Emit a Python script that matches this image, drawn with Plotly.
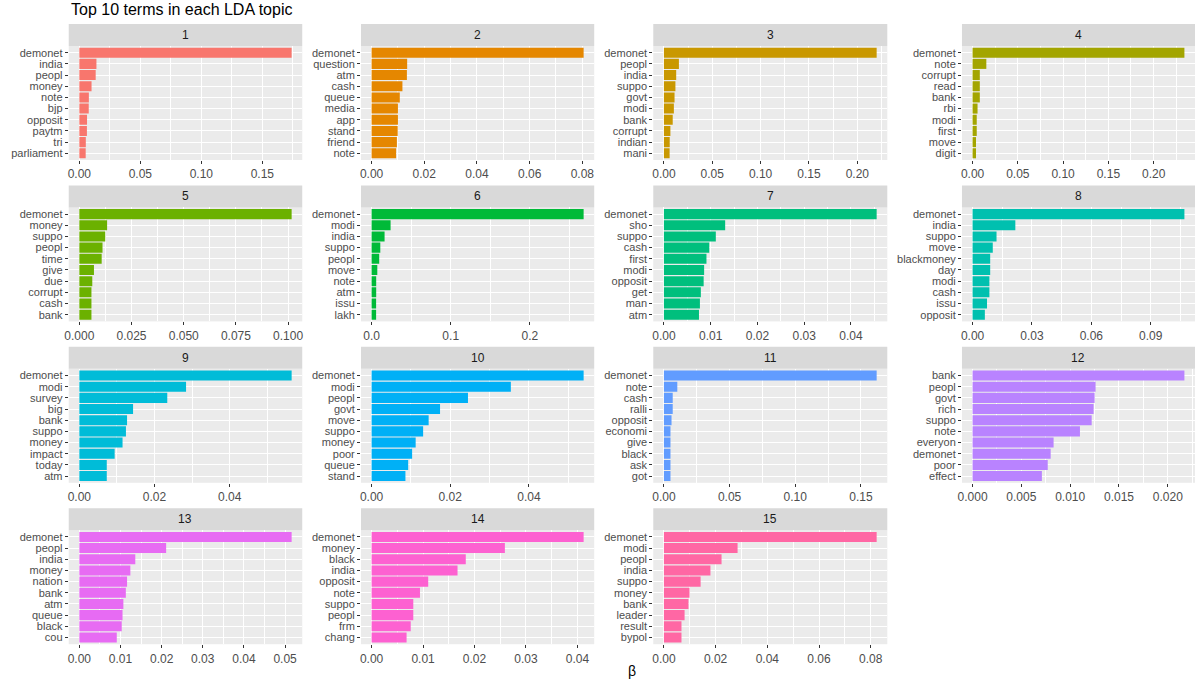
import plotly.graph_objects as go

terms_1 = ["demonet", "india", "peopl", "money", "note", "bjp", "opposit", "paytm", "tri", "parliament"]
beta_1 = [0.174, 0.014, 0.0134, 0.010, 0.0078, 0.0077, 0.0063, 0.0062, 0.0053, 0.0052]
terms_2 = ["demonet", "question", "atm", "cash", "queue", "media", "app", "stand", "friend", "note"]
beta_2 = [0.0805, 0.0135, 0.0134, 0.0117, 0.0107, 0.0100, 0.0100, 0.0099, 0.0096, 0.0093]
terms_3 = ["demonet", "peopl", "india", "suppo", "govt", "modi", "bank", "corrupt", "indian", "mani"]
beta_3 = [0.220, 0.0155, 0.0127, 0.0119, 0.0110, 0.0103, 0.0091, 0.0067, 0.0060, 0.0059]
terms_4 = ["demonet", "note", "corrupt", "read", "bank", "rbi", "modi", "first", "move", "digit"]
beta_4 = [0.234, 0.0152, 0.0080, 0.0080, 0.0080, 0.0055, 0.0046, 0.0046, 0.0038, 0.0038]
terms_5 = ["demonet", "money", "suppo", "peopl", "time", "give", "due", "corrupt", "cash", "bank"]
beta_5 = [0.1017, 0.0133, 0.0124, 0.0111, 0.0107, 0.0070, 0.0062, 0.0058, 0.0058, 0.0058]
terms_6 = ["demonet", "modi", "india", "suppo", "peopl", "move", "note", "atm", "issu", "lakh"]
beta_6 = [0.268, 0.024, 0.0164, 0.0110, 0.0096, 0.0072, 0.0058, 0.0058, 0.0057, 0.0057]
terms_7 = ["demonet", "sho", "suppo", "cash", "first", "modi", "opposit", "get", "man", "atm"]
beta_7 = [0.0455, 0.0131, 0.0111, 0.0097, 0.0091, 0.0086, 0.0085, 0.0079, 0.0077, 0.0075]
terms_8 = ["demonet", "india", "suppo", "move", "blackmoney", "day", "modi", "cash", "issu", "opposit"]
beta_8 = [0.107, 0.0216, 0.0121, 0.0102, 0.0089, 0.0089, 0.0085, 0.0085, 0.0073, 0.0062]
terms_9 = ["demonet", "modi", "survey", "big", "bank", "suppo", "money", "impact", "today", "atm"]
beta_9 = [0.0565, 0.0284, 0.0234, 0.0143, 0.0127, 0.0124, 0.0115, 0.0094, 0.0073, 0.0073]
terms_10 = ["demonet", "modi", "peopl", "govt", "move", "suppo", "money", "poor", "queue", "stand"]
beta_10 = [0.0539, 0.0354, 0.0245, 0.0174, 0.0145, 0.0131, 0.0112, 0.0103, 0.0093, 0.0086]
terms_11 = ["demonet", "note", "cash", "ralli", "opposit", "economi", "give", "black", "ask", "got"]
beta_11 = [0.162, 0.0102, 0.0067, 0.0067, 0.0058, 0.0050, 0.0050, 0.0050, 0.0050, 0.0050]
terms_12 = ["bank", "peopl", "govt", "rich", "suppo", "note", "everyon", "demonet", "poor", "effect"]
beta_12 = [0.0217, 0.0126, 0.0125, 0.0124, 0.0122, 0.0110, 0.0083, 0.0080, 0.0077, 0.0071]
terms_13 = ["demonet", "peopl", "india", "money", "nation", "bank", "atm", "queue", "black", "cou"]
beta_13 = [0.0516, 0.0211, 0.0136, 0.0124, 0.0116, 0.0113, 0.0107, 0.0105, 0.0103, 0.0091]
terms_14 = ["demonet", "money", "black", "india", "opposit", "note", "suppo", "peopl", "frm", "chang"]
beta_14 = [0.0412, 0.0259, 0.0183, 0.0167, 0.0110, 0.0094, 0.0081, 0.0081, 0.0076, 0.0068]
terms_15 = ["demonet", "modi", "peopl", "india", "suppo", "money", "bank", "leader", "result", "bypol"]
beta_15 = [0.0823, 0.0285, 0.0223, 0.0180, 0.0142, 0.0099, 0.0095, 0.0080, 0.0068, 0.0068]

# x breaks per facet, as ggplot printed them
breaks_1 = ["0.00", "0.05", "0.10", "0.15"]
breaks_2 = ["0.00", "0.02", "0.04", "0.06", "0.08"]
breaks_3 = ["0.00", "0.05", "0.10", "0.15", "0.20"]
breaks_4 = ["0.00", "0.05", "0.10", "0.15", "0.20"]
breaks_5 = ["0.000", "0.025", "0.050", "0.075", "0.100"]
breaks_6 = ["0.0", "0.1", "0.2"]
breaks_7 = ["0.00", "0.01", "0.02", "0.03", "0.04"]
breaks_8 = ["0.00", "0.03", "0.06", "0.09"]
breaks_9 = ["0.00", "0.02", "0.04"]
breaks_10 = ["0.00", "0.02", "0.04"]
breaks_11 = ["0.00", "0.05", "0.10", "0.15"]
breaks_12 = ["0.000", "0.005", "0.010", "0.015", "0.020"]
breaks_13 = ["0.00", "0.01", "0.02", "0.03", "0.04", "0.05"]
breaks_14 = ["0.00", "0.01", "0.02", "0.03", "0.04"]
breaks_15 = ["0.00", "0.02", "0.04", "0.06", "0.08"]

# default ggplot hue palette for 15 levels
topic_colours = ["#F8766D", "#E58700", "#C99800", "#A3A500", "#6BB100", "#00BA38", "#00BF7D", "#00C0AF",
                 "#00BCD8", "#00B0F6", "#619CFF", "#B983FF", "#E76BF3", "#FD61D1", "#FF67A4"]

topics = [
    (terms_1, beta_1, breaks_1), (terms_2, beta_2, breaks_2), (terms_3, beta_3, breaks_3),
    (terms_4, beta_4, breaks_4), (terms_5, beta_5, breaks_5), (terms_6, beta_6, breaks_6),
    (terms_7, beta_7, breaks_7), (terms_8, beta_8, breaks_8), (terms_9, beta_9, breaks_9),
    (terms_10, beta_10, breaks_10), (terms_11, beta_11, breaks_11), (terms_12, beta_12, breaks_12),
    (terms_13, beta_13, breaks_13), (terms_14, beta_14, breaks_14), (terms_15, beta_15, breaks_15),
]

W, H = 1196, 680
col_edges = [(65, 299.5), (358.5, 592.7), (652, 887), (962, 1196)]
strip_h = 22
panel_h = 136
row_pitch = 161.4
first_strip = 24

fig = go.Figure()
shapes = []
annotations = []
axes = {}

for i, (terms, betas, breaks) in enumerate(topics):
    n = i + 1
    suffix = "" if n == 1 else str(n)
    row, col = divmod(i, 4)
    left, right = col_edges[col]
    strip_top = first_strip + row * row_pitch
    panel_top = strip_top + strip_h
    panel_bottom = strip_top + panel_h

    fig.add_trace(go.Bar(x=betas, y=terms, orientation="h", width=0.9,
                         marker=dict(color=topic_colours[i], line=dict(width=0)),
                         xaxis="x" + suffix, yaxis="y" + suffix,
                         showlegend=False, hoverinfo="x+y"))

    ticks = [float(b) for b in breaks]
    step = ticks[1] - ticks[0]
    minor = [t + step / 2 for t in ticks] + [ticks[0] - step / 2]
    top = max(betas)

    axes["xaxis" + suffix] = dict(
        domain=[left / W, right / W], anchor="y" + suffix,
        range=[-0.05 * top, 1.05 * top],
        tickmode="array", tickvals=ticks, ticktext=breaks,
        showgrid=True, gridcolor="white", gridwidth=1.3, zeroline=False,
        minor=dict(tickmode="array", tickvals=minor, showgrid=True,
                   gridcolor="white", gridwidth=0.6, ticks=""),
        ticks="outside", ticklen=3, tickwidth=1, tickcolor="#333333",
        tickfont=dict(size=12, color="#4D4D4D"), showline=False,
        fixedrange=True,
    )
    axes["yaxis" + suffix] = dict(
        domain=[1 - panel_bottom / H, 1 - panel_top / H], anchor="x" + suffix,
        type="category", categoryorder="array", categoryarray=terms[::-1],
        tickmode="array", tickvals=terms, ticktext=terms,
        range=[-0.6, len(terms) - 0.4],
        showgrid=True, gridcolor="white", gridwidth=1.3, zeroline=False,
        ticks="outside", ticklen=3, tickwidth=1, tickcolor="#333333",
        tickfont=dict(size=11, color="#4D4D4D"), showline=False,
        fixedrange=True,
    )

    # facet strip
    shapes.append(dict(type="rect", xref="paper", yref="paper",
                       x0=left / W, x1=right / W,
                       y0=1 - panel_top / H, y1=1 - strip_top / H,
                       fillcolor="#D9D9D9", line=dict(width=0), layer="below"))
    annotations.append(dict(text=str(n), xref="paper", yref="paper",
                            x=(left + right) / 2 / W, y=1 - (strip_top + strip_h / 2) / H,
                            xanchor="center", yanchor="middle", showarrow=False,
                            font=dict(size=12, color="#1A1A1A")))

annotations.append(dict(text="Top 10 terms in each LDA topic", xref="paper", yref="paper",
                        x=65 / W, y=1 - 10 / H, xanchor="left", yanchor="middle",
                        showarrow=False, font=dict(size=16, color="black")))
annotations.append(dict(text="β", xref="paper", yref="paper",
                        x=(65 + 1196) / 2 / W, y=1 - 671 / H, xanchor="center", yanchor="middle",
                        showarrow=False, font=dict(size=14, color="black")))

fig.update_layout(
    width=W, height=H,
    margin=dict(l=0, r=0, t=0, b=0),
    paper_bgcolor="white", plot_bgcolor="#EBEBEB",
    font=dict(family="Liberation Sans, Arial, sans-serif"),
    shapes=shapes, annotations=annotations,
    showlegend=False, bargap=0.1,
    **axes,
)

# page body has a default margin; drop it so the figure sits at the window's corner
fig.write_html("out.html", config={"displayModeBar": False},
               post_script="document.body.style.margin='0px';document.body.style.overflow='hidden';")
